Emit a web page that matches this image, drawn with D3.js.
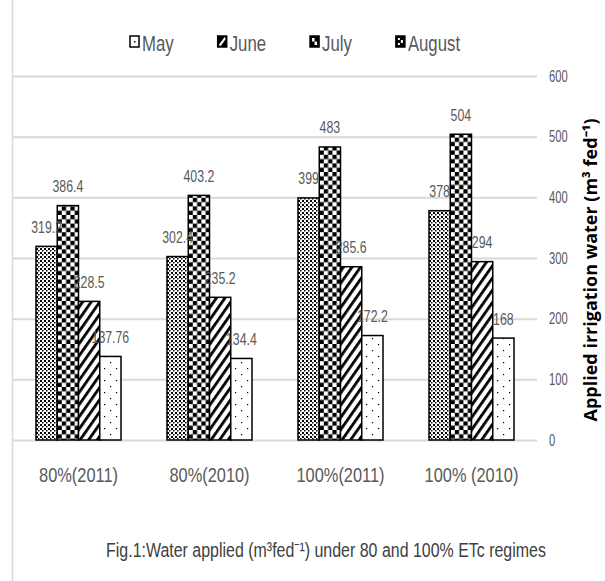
<!DOCTYPE html>
<html>
<head>
<meta charset="utf-8">
<script src="https://cdn.jsdelivr.net/npm/d3@7"></script>
<style>
  body { margin: 0; background: #fff; }
  svg { display: block; }
</style>
</head>
<body>
<svg id="chart"></svg>
<script>
// datos
var categories = ["80%(2011)", "80%(2010)", "100%(2011)", "100% (2010)"];
var months = ["May", "June", "July", "August"];
var may = [319.2, 302.4, 399, 378];
var june = [386.4, 403.2, 483, 504];
var july = [228.5, 235.2, 285.6, 294];
var august = [137.76, 134.4, 172.2, 168];
var yTicks = [0, 100, 200, 300, 400, 500, 600];

var width = 605;
var height = 581;
var font = "'Liberation Sans', Arial, sans-serif";
var gray = "#595959";

var series = [may, june, july, august];
var rows = categories.map(function(c, i) {
  return { cat: c, vals: months.map(function(m, j) { return { month: m, v: series[j][i] }; }) };
});

// comprime el texto en horizontal (fuente estrecha)
function squeeze(sel, sx) {
  sel.each(function() {
    var t = d3.select(this);
    var x = +t.attr("x") || 0, y = +t.attr("y") || 0;
    t.attr("x", 0).attr("y", 0)
      .attr("transform", "translate(" + x + "," + y + ") scale(" + sx + ",1)");
  });
}

var svg = d3.select("#chart")
  .attr("width", width)
  .attr("height", height);

// patrones
var defs = svg.append("defs");
var p1 = defs.append("pattern").attr("id", "pMay").attr("patternUnits", "userSpaceOnUse")
  .attr("width", 4).attr("height", 4);
p1.append("rect").attr("width", 4).attr("height", 4).attr("fill", "#fff");
p1.append("rect").attr("x", 0).attr("y", 0).attr("width", 2).attr("height", 2).attr("fill", "#000");
p1.append("rect").attr("x", 2).attr("y", 2).attr("width", 1.5).attr("height", 1.5).attr("fill", "#000");

var p2 = defs.append("pattern").attr("id", "pJune").attr("patternUnits", "userSpaceOnUse")
  .attr("width", 8.6).attr("height", 8.6);
p2.append("rect").attr("width", 8.6).attr("height", 8.6).attr("fill", "#fff");
p2.append("rect").attr("width", 4.3).attr("height", 4.3).attr("fill", "#000");
p2.append("rect").attr("x", 4.3).attr("y", 4.3).attr("width", 4.3).attr("height", 4.3).attr("fill", "#000");

var p3 = defs.append("pattern").attr("id", "pJuly").attr("patternUnits", "userSpaceOnUse")
  .attr("width", 7).attr("height", 7).attr("patternTransform", "rotate(35)");
p3.append("rect").attr("width", 7).attr("height", 7).attr("fill", "#fff");
p3.append("rect").attr("width", 2.8).attr("height", 7).attr("fill", "#000");

var p4 = defs.append("pattern").attr("id", "pAug").attr("patternUnits", "userSpaceOnUse")
  .attr("width", 12).attr("height", 12);
p4.append("rect").attr("width", 12).attr("height", 12).attr("fill", "#fff");
p4.append("rect").attr("x", 2).attr("y", 2).attr("width", 1.2).attr("height", 1.2).attr("fill", "#000");
p4.append("rect").attr("x", 8).attr("y", 8).attr("width", 1.2).attr("height", 1.2).attr("fill", "#000");

var fills = { May: "url(#pMay)", June: "url(#pJune)", July: "url(#pJuly)", August: "url(#pAug)" };

// escalas
var y = d3.scaleLinear().domain([0, 600]).range([440, 76]);
var x0 = d3.scaleBand().domain(categories).range([13, 537]).padding(0);
var groupW = 85;
var x1 = d3.scaleBand().domain(months).range([0, groupW]);

// borde izquierdo
svg.append("line").attr("x1", 12.5).attr("x2", 12.5).attr("y1", 0).attr("y2", height)
  .attr("stroke", "#d9d9d9").attr("stroke-width", 1.5);

// rejilla y eje derecho
var yAxis = d3.axisRight(y).tickValues(yTicks).tickSize(524).tickPadding(12);
svg.append("g")
  .attr("transform", "translate(13,0)")
  .call(yAxis)
  .call(function(g) {
    g.select(".domain").remove();
    g.selectAll(".tick line").attr("stroke", "#d9d9d9").attr("stroke-width", 2);
    g.selectAll(".tick text").attr("fill", gray).attr("font-family", font).attr("font-size", 16)
      .call(squeeze, 0.7);
  });

var groups = svg.selectAll("g.grp")
  .data(rows)
  .enter()
  .append("g")
  .attr("class", "grp")
  .attr("transform", function(d) { return "translate(" + (x0(d.cat) + (x0.bandwidth() - groupW) / 2) + ",0)"; });

groups.selectAll("rect")
  .data(function(d) { return d.vals; })
  .enter()
  .append("rect")
  .attr("x", function(d) { return x1(d.month); })
  .attr("y", function(d) { return y(d.v); })
  .attr("width", x1.bandwidth())
  .attr("height", function(d) { return y(0) - y(d.v); })
  .attr("fill", function(d) { return fills[d.month]; })
  .attr("stroke", "#000")
  .attr("stroke-width", 1.5);

// etiquetas de valor
groups.selectAll("text.lbl")
  .data(function(d) { return d.vals; })
  .enter()
  .append("text")
  .attr("class", "lbl")
  .attr("x", function(d) { return x1(d.month) + x1.bandwidth() / 2; })
  .attr("y", function(d) { return y(d.v) - 13.5; })
  .attr("text-anchor", "middle")
  .attr("font-family", font)
  .attr("font-size", 16)
  .attr("fill", gray)
  .text(function(d) { return String(d.v); })
  .call(squeeze, 0.77);

// etiquetas de categoria
svg.selectAll("text.cat")
  .data(categories)
  .enter()
  .append("text")
  .attr("class", "cat")
  .attr("x", function(d) { return x0(d) + x0.bandwidth() / 2; })
  .attr("y", 482)
  .attr("text-anchor", "middle")
  .attr("font-family", font)
  .attr("font-size", 20)
  .attr("fill", gray)
  .text(function(d) { return d; })
  .call(squeeze, 0.82);

// leyenda
var legIcons = {
  May: function(g) {
    g.append("rect").attr("width", 9).attr("height", 11).attr("fill", "#fff").attr("stroke", "#000").attr("stroke-width", 1.5);
    g.append("rect").attr("x", 4).attr("y", 5).attr("width", 1.5).attr("height", 1.5).attr("fill", "#000");
  },
  June: function(g) {
    g.append("rect").attr("width", 9).attr("height", 11).attr("fill", "#000").attr("stroke", "#000").attr("stroke-width", 1.5);
    g.append("path").attr("d", "M1,9 L7,1 L8,3 L3,10 Z").attr("fill", "#fff");
  },
  July: function(g) {
    g.append("rect").attr("width", 9).attr("height", 11).attr("fill", "#000").attr("stroke", "#000").attr("stroke-width", 1.5);
    g.append("rect").attr("x", 2).attr("y", 2).attr("width", 2.5).attr("height", 3.5).attr("fill", "#fff");
    g.append("rect").attr("x", 4.5).attr("y", 5.5).attr("width", 2.5).attr("height", 3.5).attr("fill", "#fff");
  },
  August: function(g) {
    g.append("rect").attr("width", 9).attr("height", 11).attr("fill", "#000").attr("stroke", "#000").attr("stroke-width", 1.5);
    g.append("rect").attr("x", 2).attr("y", 2).attr("width", 2).attr("height", 2).attr("fill", "#fff");
    g.append("rect").attr("x", 5).attr("y", 4).attr("width", 2).attr("height", 3).attr("fill", "#fff");
    g.append("rect").attr("x", 2).attr("y", 7).attr("width", 2).attr("height", 2).attr("fill", "#fff");
  }
};

var legSx = 0.78;
var legend = svg.append("g");
var lx = 130;
months.forEach(function(m) {
  var item = legend.append("g").attr("transform", "translate(" + lx + ",36)");
  legIcons[m](item);
  var t = item.append("text")
    .attr("x", 12)
    .attr("y", 14.5)
    .attr("font-family", font)
    .attr("font-size", 21.5)
    .attr("fill", gray)
    .text(m);
  var w = t.node().getComputedTextLength() * legSx;
  t.call(squeeze, legSx);
  lx += 12 + w + 44;
});

// titulo del eje
svg.append("text")
  .attr("transform", "translate(597,270) rotate(-90)")
  .attr("text-anchor", "middle")
  .attr("font-family", "'Open Sans', sans-serif")
  .attr("font-weight", "bold")
  .attr("font-size", 18)
  .attr("fill", "#000")
  .text("Applied irrigation water (m³ fed⁻¹)");

// pie de figura
svg.append("text")
  .attr("x", 326)
  .attr("y", 557)
  .attr("text-anchor", "middle")
  .attr("font-family", font)
  .attr("font-size", 21)
  .attr("fill", "#404040")
  .text("Fig.1:Water applied (m³fed⁻¹) under 80 and 100% ETc regimes")
  .call(squeeze, 0.76);
</script>
</body>
</html>
